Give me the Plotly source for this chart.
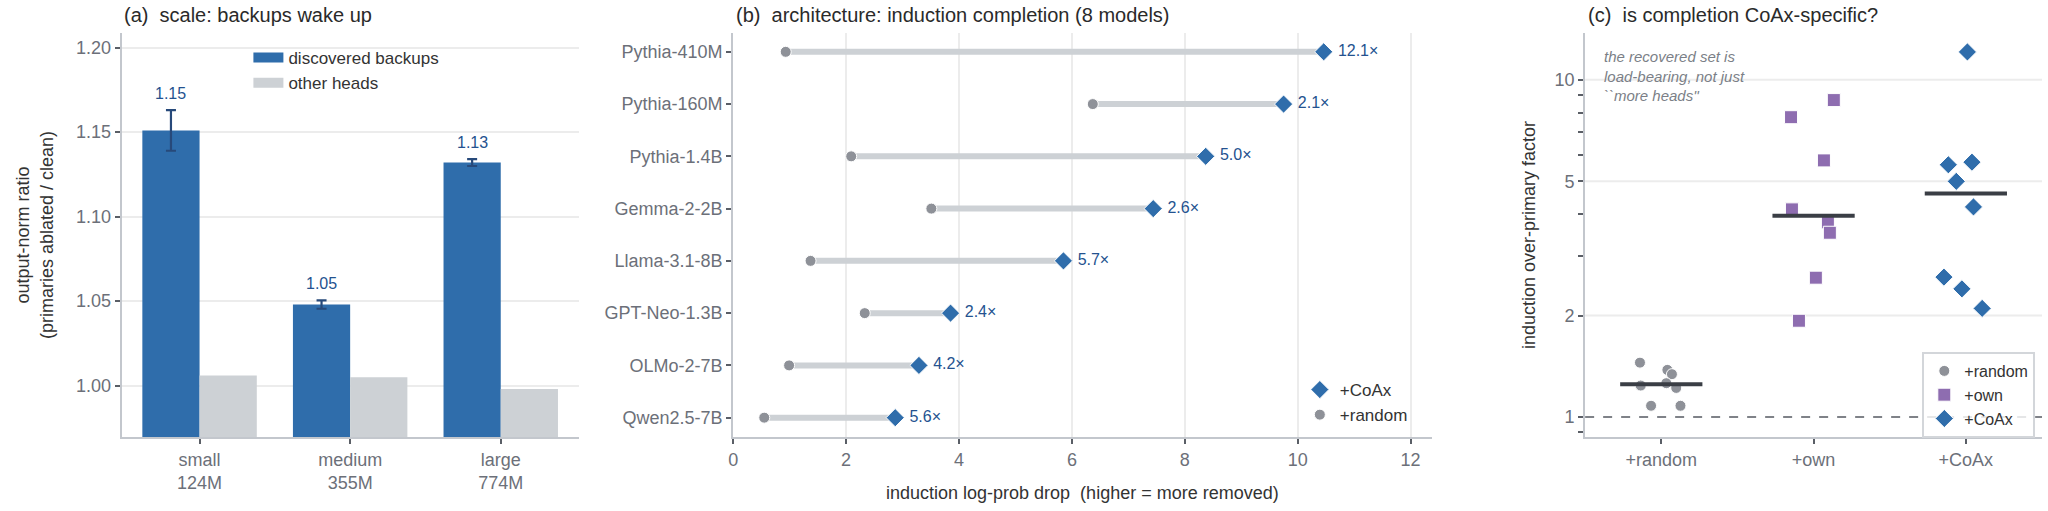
import numpy as np
import plotly.graph_objects as go

# ---------------- data ----------------
# (a) scale
scale_labels = ["small<br>124M", "medium<br>355M", "large<br>774M"]
backup_ratio = [1.151, 1.048, 1.132]
backup_err = [0.012, 0.0025, 0.002]
other_ratio = [1.006, 1.005, 0.998]

# (b) architecture
models = ["Pythia-410M", "Pythia-160M", "Pythia-1.4B", "Gemma-2-2B",
          "Llama-3.1-8B", "GPT-Neo-1.3B", "OLMo-2-7B", "Qwen2.5-7B"]
random_drop = [0.93, 6.37, 2.09, 3.51, 1.37, 2.33, 0.99, 0.55]
coax_drop = [10.46, 9.75, 8.37, 7.44, 5.85, 3.85, 3.29, 2.87]
coax_factor = [12.1, 2.1, 5.0, 2.6, 5.7, 2.4, 4.2, 5.6]

# (c) specificity
groups = ["+random", "+own", "+CoAx"]
random_factor = [1.45, 1.38, 1.34, 1.24, 1.26, 1.22, 1.08, 1.08]
random_jitter = [-0.14, 0.04, 0.07, -0.135, 0.033, 0.098, -0.067, 0.126]
own_factor = [8.71, 7.75, 5.77, 4.13, 3.78, 3.52, 2.59, 1.93]
own_jitter = [0.133, -0.148, 0.068, -0.142, 0.094, 0.107, 0.015, -0.096]
coax_jitter = [0.01, 0.107, -0.063, -0.144, 0.04, -0.026, 0.05, -0.115]

# ---------------- style ----------------
FONT = "Liberation Sans, Arial, Helvetica, sans-serif"
BLUE = "#2f6dab"
BLUE_TXT = "#24528f"
GRAY_BAR = "#cdd1d5"
GRAY_DOT = "#8e9198"
PURPLE = "#8e6db0"
TICK_C = "#6c7079"
AXIS_C = "#c3c7cd"
GRID_C = "#ececec"
TITLE_C = "#2a2a2a"
LABEL_C = "#333333"

W, H = 2048, 511
def px_x(p): return p / W
def px_y(p): return 1 - p / H

YDOM = [px_y(437), px_y(33)]

fig = go.Figure()

# ---------------- (a) bars ----------------
BW = 0.38
fig.add_trace(go.Bar(
    x=scale_labels, y=backup_ratio, name="discovered backups", showlegend=False,
    marker=dict(color=BLUE, line=dict(width=0)), width=BW, offset=-BW,
    error_y=dict(type="data", array=backup_err, color="#27497a", thickness=2.2, width=5),
    xaxis="x", yaxis="y"))
fig.add_trace(go.Bar(
    x=scale_labels, y=other_ratio, name="other heads", showlegend=False,
    marker=dict(color=GRAY_BAR, line=dict(width=0)), width=BW, offset=0,
    xaxis="x", yaxis="y"))
# legend swatches (wide rectangles like the reference)
for name, col in [("discovered backups", BLUE), ("other heads", GRAY_BAR)]:
    fig.add_trace(go.Scatter(x=[None], y=[None], mode="lines", name=name,
                             line=dict(color=col, width=12), xaxis="x", yaxis="y",
                             legend="legend"))

annotations = []
for i, (v, e) in enumerate(zip(backup_ratio, backup_err)):
    annotations.append(dict(x=i - BW / 2, y=v + e, xref="x", yref="y", text=f"{v:.2f}",
                            showarrow=False, yanchor="middle", yshift=17,
                            font=dict(size=16, color=BLUE_TXT, family=FONT)))

# ---------------- (b) dumbbells ----------------
seg_x, seg_y = [], []
for m, r, c in zip(models, random_drop, coax_drop):
    seg_x += [r, c, None]
    seg_y += [m, m, None]
fig.add_trace(go.Scatter(x=seg_x, y=seg_y, mode="lines", line=dict(color=GRAY_BAR, width=6),
                         showlegend=False, hoverinfo="skip", xaxis="x2", yaxis="y2"))
fig.add_trace(go.Scatter(x=random_drop, y=models, mode="markers", name="+random",
                         marker=dict(symbol="circle", size=11, color=GRAY_DOT, line=dict(width=1, color="white")),
                         xaxis="x2", yaxis="y2", legend="legend2", legendrank=2))
fig.add_trace(go.Scatter(x=coax_drop, y=models, mode="markers+text", name="+CoAx",
                         text=[f"\u00a0{f:.1f}×" for f in coax_factor], textposition="middle right",
                         textfont=dict(size=16, color=BLUE_TXT, family=FONT),
                         marker=dict(symbol="diamond", size=14, color=BLUE, line=dict(width=1, color="white")),
                         xaxis="x2", yaxis="y2", legend="legend2", legendrank=1))

# ---------------- (c) strip ----------------
sets = [
    ("+random", random_factor, random_jitter, dict(symbol="circle", size=11, color=GRAY_DOT)),
    ("+own", own_factor, own_jitter, dict(symbol="square", size=13, color=PURPLE)),
    ("+CoAx", coax_factor, coax_jitter, dict(symbol="diamond", size=14, color=BLUE)),
]
for gi, (name, vals, jit, mk) in enumerate(sets):
    mk = dict(mk, line=dict(width=1, color="white"))
    fig.add_trace(go.Scatter(x=[gi + j for j in jit], y=vals, mode="markers", name=name,
                             marker=mk, xaxis="x3", yaxis="y3", legend="legend3"))
for gi, (name, vals, jit, mk) in enumerate(sets):
    med = float(np.median(vals))
    fig.add_trace(go.Scatter(x=[gi - 0.27, gi + 0.27], y=[med, med], mode="lines",
                             line=dict(color="#3a3e45", width=4), showlegend=False,
                             hoverinfo="skip", xaxis="x3", yaxis="y3"))

# ---------------- titles / notes ----------------
for txt, xp in [("(a)  scale: backups wake up", 117),
                ("(b)  architecture: induction completion (8 models)", 731),
                ("(c)  is completion CoAx-specific?", 1585)]:
    annotations.append(dict(x=px_x(xp), y=px_y(15), xref="paper", yref="paper", text=txt,
                            showarrow=False, xanchor="left", yanchor="middle",
                            font=dict(size=20, color=TITLE_C, family=FONT)))
annotations.append(dict(x=px_x(1601), y=px_y(46), xref="paper", yref="paper",
                        text="<i>the recovered set is<br>load-bearing, not just<br>``more heads''</i>",
                        showarrow=False, xanchor="left", yanchor="top", align="left",
                        font=dict(size=15, color="#7b7f87", family=FONT)))

# ---------------- shapes ----------------
shapes = [
    dict(type="line", xref="x domain", yref="y", x0=0, x1=1, y0=1.0, y1=1.0, layer="below",
         line=dict(color="#555a61", width=1.5, dash="dash")),
]
for g in [2, 5, 10]:
    shapes.append(dict(type="line", xref="x3 domain", yref="y3", x0=0, x1=1, y0=g, y1=g,
                       layer="below", line=dict(color=GRID_C, width=2)))
shapes.append(dict(type="line", xref="x3 domain", yref="y3", x0=0, x1=1, y0=1, y1=1,
                   layer="below", line=dict(color="#555a61", width=1.5, dash="dash")))

axis_common = dict(showline=True, linecolor=AXIS_C, linewidth=2, ticks="outside", ticklen=5,
                   tickwidth=1.5, tickcolor="#5a5e66", zeroline=False,
                   tickfont=dict(size=18, color=TICK_C, family=FONT))
title_font = dict(size=18, color=LABEL_C, family=FONT)

c_ticks = [0.9, 1, 2, 3, 4, 5, 6, 7, 8, 9, 10]
c_text = ["", "1", "2", "", "", "5", "", "", "", "", "10"]

fig.update_layout(
    width=W, height=H, margin=dict(l=0, r=0, t=0, b=0),
    paper_bgcolor="white", plot_bgcolor="white",
    font=dict(family=FONT, color=LABEL_C),
    barmode="overlay",
    xaxis=dict(domain=[px_x(117), px_x(575)], type="category", range=[-0.517, 2.517],
               showgrid=False, **axis_common),
    yaxis=dict(domain=YDOM, range=[0.9696, 1.2087], tickvals=[1.0, 1.05, 1.1, 1.15, 1.2],
               tickformat=".2f", showgrid=True, gridcolor=GRID_C, gridwidth=2,
               title=dict(text="output-norm ratio<br>(primaries ablated / clean)", font=title_font,
                          standoff=18),
               **axis_common),
    xaxis2=dict(domain=[px_x(730), px_x(1430)], range=[0, 12.37], tickvals=[0, 2, 4, 6, 8, 10, 12],
                showgrid=True, gridcolor=GRID_C, gridwidth=2, anchor="y2",
                title=dict(text="induction log-prob drop \u00a0(higher = more removed)", font=title_font,
                           standoff=18),
                **axis_common),
    yaxis2=dict(domain=YDOM, type="category", categoryarray=models, range=[7.37, -0.36],
                showgrid=False, anchor="x2", **axis_common),
    xaxis3=dict(domain=[px_x(1584), px_x(2042)], range=[-0.5, 2.5], tickvals=[0, 1, 2],
                ticktext=groups, showgrid=False, anchor="y3", **axis_common),
    yaxis3=dict(domain=YDOM, type="log", range=[-0.0592, 1.139], tickmode="array",
                tickvals=c_ticks, ticktext=c_text, showgrid=False, anchor="x3",
                title=dict(text="induction over-primary factor", font=title_font, standoff=14),
                **axis_common),
    legend=dict(x=px_x(244), y=px_y(40), xanchor="left", yanchor="top", bgcolor="rgba(0,0,0,0)",
                font=dict(size=17, color=LABEL_C, family=FONT), itemwidth=30, tracegroupgap=0),
    legend2=dict(x=px_x(1298), y=px_y(372), xanchor="left", yanchor="top", bgcolor="rgba(0,0,0,0)",
                 font=dict(size=17, color=LABEL_C, family=FONT), itemwidth=30),
    legend3=dict(x=px_x(1922), y=px_y(352), xanchor="left", yanchor="top",
                 bgcolor="rgba(255,255,255,0.8)", bordercolor="#d3d6da", borderwidth=2,
                 font=dict(size=16, color=LABEL_C, family=FONT), itemwidth=30),
    annotations=annotations,
    shapes=shapes,
)

fig.write_html("out.html")
